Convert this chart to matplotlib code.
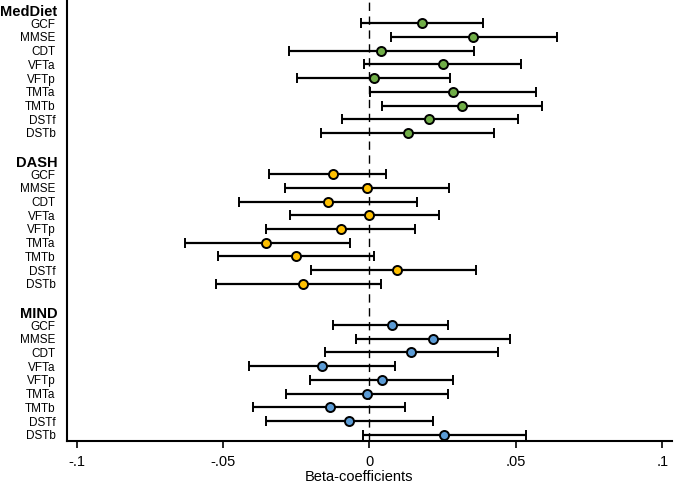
import matplotlib

matplotlib.use("Agg")
import matplotlib.pyplot as plt

plt.rcParams["font.family"] = ["Liberation Sans", "DejaVu Sans"]

GROUPS = ["MedDiet", "DASH", "MIND"]
TESTS = ["GCF", "MMSE", "CDT", "VFTa", "VFTp", "TMTa", "TMTb", "DSTf", "DSTb"]
COLORS = {"MedDiet": "#70AD47", "DASH": "#FFC000", "MIND": "#5B9BD5"}

# 점추정 / 하한 / 상한
BETA = {
    "MedDiet": [0.0179, 0.0355, 0.0039, 0.0252, 0.0015, 0.0286, 0.0317, 0.0205, 0.0130],
    "DASH": [-0.0126, -0.0009, -0.0143, 0.0000, -0.0098, -0.0352, -0.0252, 0.0095, -0.0227],
    "MIND": [0.0076, 0.0218, 0.0143, -0.0163, 0.0043, -0.0008, -0.0136, -0.0069, 0.0256],
}
LOWER = {
    "MedDiet": [-0.0029, 0.0075, -0.0274, -0.0017, -0.0247, 0.0003, 0.0043, -0.0095, -0.0165],
    "DASH": [-0.0342, -0.0288, -0.0446, -0.0270, -0.0352, -0.0631, -0.0517, -0.0201, -0.0524],
    "MIND": [-0.0124, -0.0046, -0.0153, -0.0412, -0.0203, -0.0285, -0.0397, -0.0355, -0.0021],
}
UPPER = {
    "MedDiet": [0.0388, 0.0639, 0.0356, 0.0519, 0.0276, 0.0570, 0.0589, 0.0508, 0.0424],
    "DASH": [0.0056, 0.0270, 0.0162, 0.0238, 0.0154, -0.0068, 0.0015, 0.0363, 0.0038],
    "MIND": [0.0268, 0.0481, 0.0438, 0.0087, 0.0286, 0.0268, 0.0122, 0.0216, 0.0533],
}

XTICKS = [-0.1, -0.05, 0, 0.05, 0.1]
XTICKLABELS = ["-.1", "-.05", "0", ".05", ".1"]

fig = plt.figure(figsize=(6.75, 4.83), dpi=100)
ax = fig.add_axes([0.0988, 0.087, 0.8962, 0.911])

ypos, ylabels = [], []
row = 0
for g in GROUPS:
    # 그룹 제목 (굵게, 틱 라벨과 같은 오른쪽 정렬)
    ax.text(-0.015, row + 0.2, g, transform=ax.get_yaxis_transform(),
            ha="right", va="center", fontsize=10.5, fontweight="bold")
    rows = [row + 1 + i for i in range(len(TESTS))]
    ypos += rows
    ylabels += TESTS
    b, lo, hi = BETA[g], LOWER[g], UPPER[g]
    err = [[bi - l for bi, l in zip(b, lo)], [h - bi for bi, h in zip(b, hi)]]
    ax.errorbar(b, rows, xerr=err, fmt="o", color="black", ecolor="black",
                elinewidth=1.6, capsize=3.5, capthick=1.6,
                markerfacecolor=COLORS[g], markeredgecolor="black",
                markeredgewidth=1.4, markersize=6.5, zorder=3)
    row += len(TESTS) + 2

ax.axvline(0, color="black", lw=1.0, ls=(0, (6, 4)), zorder=1)

ax.set_xlim(-0.1034, 0.1032)
ax.set_ylim(31.45, -0.62)
ax.set_xticks(XTICKS)
ax.set_xticklabels(XTICKLABELS, fontsize=10.5)
ax.set_yticks(ypos)
ax.set_yticklabels(ylabels, fontsize=8.5)
ax.tick_params(axis="y", length=0, pad=8)
ax.tick_params(axis="x", direction="out", length=5, width=1.2, pad=5)
ax.set_xlabel("Beta-coefficients", fontsize=10.5)
ax.xaxis.set_label_coords(0.483, -0.081)
ax.xaxis.label.set_va("center")

for s in ["top", "right"]:
    ax.spines[s].set_visible(False)
for s in ["left", "bottom"]:
    ax.spines[s].set_linewidth(1.5)

fig.savefig("out.png", dpi=100)
